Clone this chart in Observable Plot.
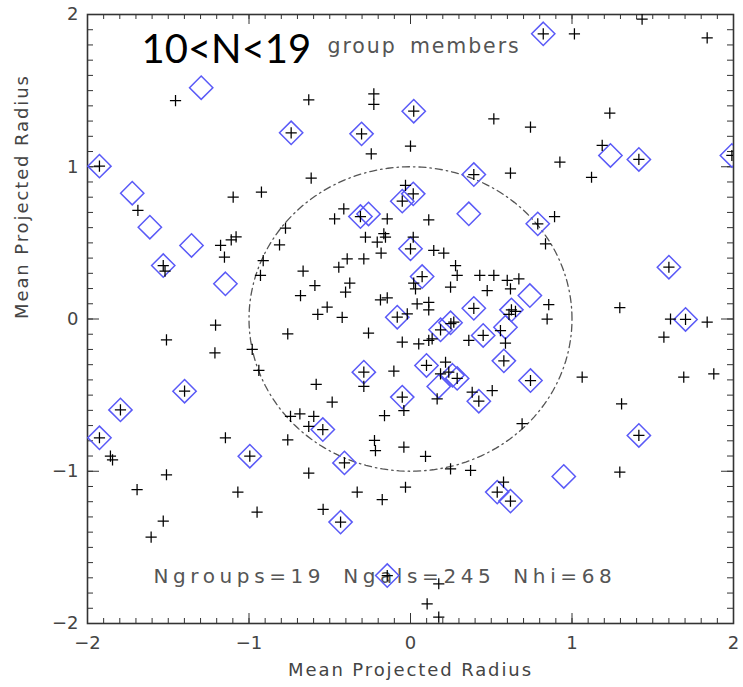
<!DOCTYPE html>
<html><head><meta charset="utf-8">
<script src="https://cdn.jsdelivr.net/npm/d3@7"></script>
<script src="https://cdn.jsdelivr.net/npm/@observablehq/plot@0.6"></script>
<style>
body{margin:0;background:#fff;}
</style></head>
<body><div id="chart"></div>
<script>
// ---- data ----
const plusPoints = [
[-1.455,1.435],[-0.63,1.44],[-0.227,1.479],[-0.227,1.409],[0.02,1.365],[-0.739,1.223],[-0.303,1.216],[-0.243,1.085],[0.0,1.135],[-1.926,1.004],[-1.688,0.713],[-1.531,0.351],[-1.52,0.314],[-1.098,0.80],[-0.923,0.833],[-0.615,0.925],[-1.176,0.483],[-1.152,0.406],[-1.11,0.52],[-1.08,0.54],[-0.774,0.597],[-0.811,0.487],[-0.912,0.384],[-0.929,0.286],[-1.207,-0.04],
[-0.47,0.658],[-0.413,0.724],[-0.31,0.673],[-0.144,0.658],[-0.051,0.774],[0.017,0.822],[-0.031,0.877],[-0.279,0.537],[-0.165,0.56],[-0.155,0.537],[-0.206,0.505],[-0.182,0.432],[-0.289,0.395],[-0.392,0.395],[-0.444,0.34],[-0.665,0.314],[-0.592,0.22],[-0.681,0.154],[-0.376,0.235],[-0.402,0.176],[-0.574,0.03],[-0.516,0.078],[-0.423,0.01],[-0.186,0.126],[-0.144,0.139],
[-0.082,0.012],[-0.02,0.034],[0,0.461],[0.017,0.537],[0.113,0.651],[0.144,0.45],[0.206,0.432],[0.279,0.351],[0.289,0.286],[0.072,0.279],[0.02,0.235],[0.031,0.198],[0.248,0.209],[0.041,0.1],[0.113,0.11],[0.113,0.06],
[0.822,1.873],[1.015,1.873],[1.434,1.97],[1.837,1.847],[0.516,1.315],[0.743,1.26],[1.234,1.352],[1.187,1.14],[1.414,1.048],[1.99,1.074],[0.925,1.03],[1.121,0.931],[0.619,0.958],[0.392,0.949],[0.788,0.625],[0.892,0.673],[0.836,0.494],
[0.429,0.286],[0.516,0.286],[0.599,0.253],[0.671,0.263],[0.619,0.198],[0.475,0.187],[0.392,0.07],[0.625,0.06],[0.65,0.05],[0.61,0.03],[0.856,0.095],[0.846,0.0],[1.296,0.074],[1.6,0.34],[1.703,-0.003],[1.61,0.0],[1.837,-0.02],
[0.268,-0.021],[0.25,-0.03],[0.186,-0.071],[0.557,-0.076],[0.45,-0.108],[0.361,-0.141],[0.588,-0.159],[0.578,-0.275],[0.289,-0.39],[0.743,-0.404],[0.382,-0.481],[0.506,-0.47],[0.423,-0.54],[0.691,-0.688],[1.569,-0.119],[1.692,-0.382],[1.878,-0.36],[1.063,-0.382],[1.307,-0.557],[1.414,-0.765],[1.296,-1.006],[0.537,-1.137],[0.619,-1.196],[0.576,-1.072],[0.372,-0.995],[0.248,-0.984],[0.093,-0.903],[-0.041,-0.842],[-0.031,-1.105],[0.165,-0.524],[0.217,-0.284],[0.186,-0.36],[0.237,-0.349],[0.099,-0.305],[-0.051,-0.152],[0.051,-0.163],[0.113,-0.141],[0.134,-0.13],[-0.26,-0.092],[-0.103,-0.343],[-0.289,-0.349],[-0.289,-0.443],[-0.051,-0.513],[-0.041,-0.601],[-0.161,-0.634],
[-1.511,-0.137],[-1.211,-0.222],[-0.98,-0.2],[-0.939,-0.338],[-0.76,-0.097],[-0.584,-0.43],[-0.485,-0.546],[-0.743,-0.64],[-0.685,-0.623],[-0.599,-0.64],[-0.63,-0.706],[-0.543,-0.726],[-0.76,-0.794],[-0.223,-0.798],[-0.217,-0.864],[-0.409,-0.945],[-0.63,-1.013],[-0.33,-1.137],[-0.175,-1.186],[-0.541,-1.251],[-0.433,-1.334],[-0.144,-1.685],[-1.146,-0.78],[-0.995,-0.901],[-1.399,-0.474],[-1.796,-0.597],[-1.926,-0.78],[-1.858,-0.9],[-1.845,-0.925],[-1.511,-1.023],[-1.693,-1.12],[-1.069,-1.137],[-0.95,-1.269],[-1.531,-1.328],[-1.606,-1.433],[0.175,-1.739],[0.103,-1.871],[0.175,-1.958]
];
const diamondPoints = [
[-1.296,1.519],[0.02,1.365],[-0.739,1.223],[-0.303,1.216],[-1.926,1.004],[-1.723,0.826],[-1.614,0.603],[-1.356,0.483],[-1.531,0.351],[-1.146,0.231],[-0.31,0.673],[-0.26,0.69],[-0.051,0.774],[0.017,0.822],[0,0.461],[0.072,0.279],[0.822,1.873],[1.238,1.074],[1.414,1.048],[1.99,1.074],[0.392,0.949],[0.361,0.691],[0.788,0.625],[0.739,0.154],[0.392,0.07],[0.625,0.06],[1.6,0.34],[1.703,-0.003],[-0.082,0.012],[0.186,-0.071],[0.248,-0.025],[0.588,-0.054],[0.45,-0.108],[0.578,-0.275],[0.099,-0.305],[0.289,-0.39],[0.26,-0.37],[0.175,-0.443],[0.743,-0.404],[0.423,-0.54],[-0.051,-0.513],[-0.289,-0.349],[1.414,-0.765],[0.949,-1.034],[0.537,-1.137],[0.619,-1.196],[-0.543,-0.726],[-0.409,-0.945],[-0.433,-1.334],[-0.144,-1.685],[-0.995,-0.901],[-1.399,-0.474],[-1.796,-0.597],[-1.926,-0.78]
];
const xTicks = [-2, -1, 0, 1, 2];
const yTicks = [-2, -1, 0, 1, 2];
const xTickLabels = ["\u22122", "\u22121", "0", "1", "2"];
const yTickLabels = ["\u22122", "\u22121", "0", "1", "2"];
const axisTitle = "Mean Projected Radius";
const bigLabel = "10<N<19";
const subLabel = "group members";
const statsLabel = "Ngroups=19 Ngals=245 Nhi=68";
const circleRadius = 1;

// ---- layout ----
const W = 743, H = 687, mL = 87, mR = 10, mT = 14, mB = 64;
const fw = W - mL - mR, fh = H - mT - mB;
const minorTicks = d3.range(-20, 21).map(i => i / 10);
const circle = d3.range(0, 361, 2).map(a => [circleRadius * Math.cos(a * Math.PI / 180), circleRadius * Math.sin(a * Math.PI / 180)]);
const tickColor = "#333";

const chart = Plot.plot({
  width: W, height: H,
  marginLeft: mL, marginRight: mR, marginTop: mT, marginBottom: mB,
  x: {domain: [-2, 2]},
  y: {domain: [-2, 2]},
  style: {fontFamily: "DejaVu Sans, sans-serif", background: "white", color: "#444", overflow: "visible"},
  marks: [
    Plot.text([statsLabel], {frameAnchor: "bottom-left", dx: 66, dy: -41, textAnchor: "start", lineAnchor: "bottom", fontSize: 20, fill: "#555"}),
    Plot.text([subLabel], {frameAnchor: "top-left", dx: 240, dy: 38, textAnchor: "start", lineAnchor: "bottom", fontSize: 20.5, fill: "#555"}),
    Plot.text([bigLabel], {frameAnchor: "top-left", dx: 54, dy: 48, textAnchor: "start", lineAnchor: "bottom", fontSize: 40, fontFamily: "Lato", fill: "black"}),
    // inward ticks on all four sides
    Plot.ruleX(minorTicks, {insetTop: fh - 5, stroke: tickColor}),
    Plot.ruleX(minorTicks, {insetBottom: fh - 5, stroke: tickColor}),
    Plot.ruleX(xTicks, {insetTop: fh - 10, stroke: tickColor}),
    Plot.ruleX(xTicks, {insetBottom: fh - 10, stroke: tickColor}),
    Plot.ruleY(minorTicks, {insetLeft: fw - 6, stroke: tickColor}),
    Plot.ruleY(minorTicks, {insetRight: fw - 6, stroke: tickColor}),
    Plot.ruleY(yTicks, {insetLeft: fw - 12, stroke: tickColor}),
    Plot.ruleY(yTicks, {insetRight: fw - 12, stroke: tickColor}),
    Plot.frame({stroke: "#333", strokeWidth: 1.6}),
    Plot.line(circle, {x: d => d[0], y: d => d[1], stroke: "#555", strokeWidth: 1.3, strokeDasharray: "7,4,1.5,4"}),
    Plot.dot(diamondPoints, {x: d => d[0], y: d => d[1], symbol: "diamond2", r: 10.5, stroke: "#5a5af7", strokeWidth: 1.5, clip: true}),
    Plot.dot(plusPoints, {x: d => d[0], y: d => d[1], symbol: "plus", r: 3.7, stroke: "black", strokeWidth: 1.25, clip: true}),
    Plot.axisX({ticks: xTicks, tickSize: 0, tickPadding: 13, tickFormat: (d, i) => xTickLabels[i], fontSize: 18, label: null}),
    Plot.axisY({ticks: yTicks, tickSize: 0, tickPadding: 9, tickFormat: (d, i) => yTickLabels[i], fontSize: 18, label: null}),
    Plot.text([axisTitle], {frameAnchor: "bottom", dy: 52, fontSize: 18, fill: "#444"}),
    Plot.text([axisTitle], {frameAnchor: "left", dx: -65, rotate: -90, fontSize: 18, fill: "#444"})
  ]
});
// letter spacing to mimic the wide plotting-package font
const spacing = new Map([[statsLabel, ["4.6px", "7px"]], [subLabel, ["1.9px", "5px"]], [axisTitle, ["1.9px", "0px"]]]);
d3.select(chart).selectAll("text").each(function() {
  const s = spacing.get(this.textContent);
  if (s) { this.style.letterSpacing = s[0]; this.style.wordSpacing = s[1]; }
});
document.getElementById("chart").appendChild(chart);
</script>
</body></html>
